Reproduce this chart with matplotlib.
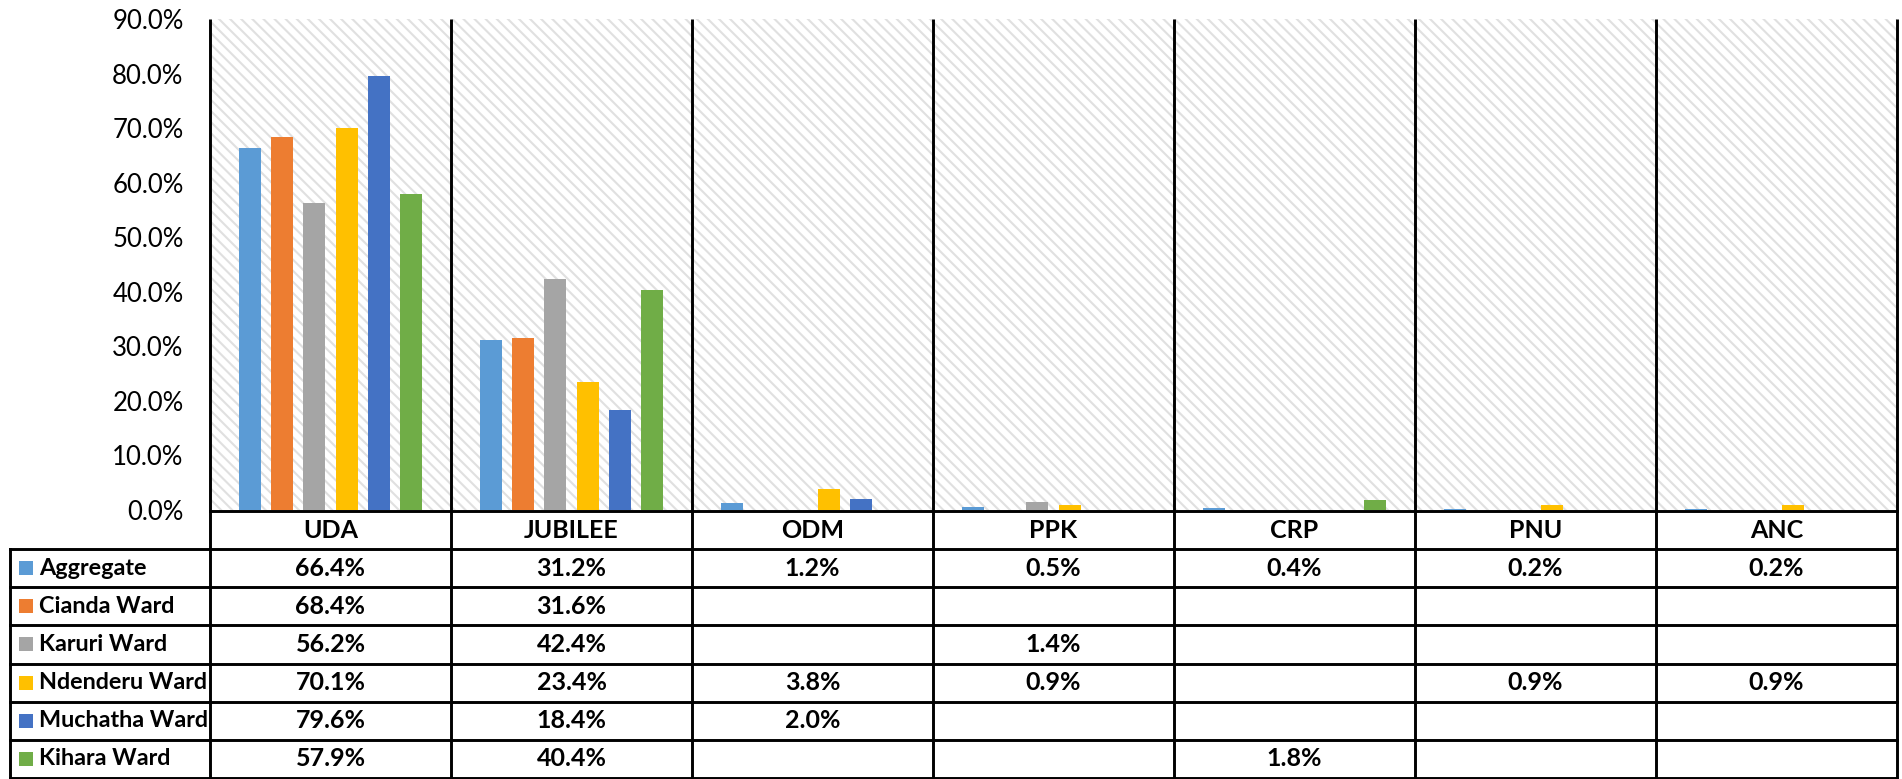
import numpy as np
import matplotlib.pyplot as plt
from matplotlib.patches import Rectangle

plt.rcParams['font.family'] = ['Lato', 'DejaVu Sans']
plt.rcParams['hatch.linewidth'] = 1.5

parties = ['UDA', 'JUBILEE', 'ODM', 'PPK', 'CRP', 'PNU', 'ANC']
wards = ['Aggregate', 'Cianda Ward', 'Karuri Ward', 'Ndenderu Ward',
         'Muchatha Ward', 'Kihara Ward']
nan = np.nan
aggregate = [66.4, 31.2, 1.2, 0.5, 0.4, 0.2, 0.2]
cianda = [68.4, 31.6, nan, nan, nan, nan, nan]
karuri = [56.2, 42.4, nan, 1.4, nan, nan, nan]
ndenderu = [70.1, 23.4, 3.8, 0.9, nan, 0.9, 0.9]
muchatha = [79.6, 18.4, 2.0, nan, nan, nan, nan]
kihara = [57.9, 40.4, nan, nan, 1.8, nan, nan]
series = [aggregate, cianda, karuri, ndenderu, muchatha, kihara]
colors = ['#5B9BD5', '#ED7D31', '#A5A5A5', '#FFC000', '#4472C4', '#70AD47']

W, H = 1902, 779
left, right, top, zero = 210, 1897, 19, 510

fig = plt.figure(figsize=(W / 100, H / 100), dpi=100)
ax = fig.add_axes([left / W, 1 - zero / H, (right - left) / W, (zero - top) / H])

# hatched plot background
ax.add_patch(Rectangle((0, 0), 1, 1, transform=ax.transAxes, facecolor='white',
                       edgecolor='#e0e0e0', hatch='\\\\\\', lw=0, zorder=0))

x = np.arange(len(parties))
step, width = 0.1328, 0.0913
for k, (vals, c) in enumerate(zip(series, colors)):
    ax.bar(x + (k - 2.5) * step, vals, width, color=c, zorder=2)

ax.set_xlim(-0.5, len(parties) - 0.5)
ax.set_ylim(0, 90)
ax.set_yticks(np.arange(0, 91, 10))
ax.set_yticklabels([f'{t:.1f}%' for t in np.arange(0, 91, 10)], fontsize=18.5)
ax.tick_params(axis='y', length=0, pad=19)
ax.set_xticks([])
for s in ax.spines.values():
    s.set_visible(False)

# data table drawn under the plot
tb = fig.add_axes([0, 0, 1, 1])
tb.set_xlim(0, W)
tb.set_ylim(H, 0)
tb.axis('off')
tb.patch.set_visible(False)

col_w = (right - left) / len(parties)
head_top, head_bot, bottom = 511, 549, 778
row_h = (bottom - head_bot) / len(wards)
lw = 2.1
fs = 18

for i in range(len(parties) + 1):
    tb.plot([left + i * col_w] * 2, [top, bottom], color='black', lw=lw,
            solid_capstyle='butt')
tb.plot([10, 10], [head_bot, bottom], color='black', lw=lw)
tb.plot([left, right], [head_top, head_top], color='black', lw=lw)
for r in range(len(wards) + 1):
    y = head_bot + r * row_h
    tb.plot([10, right], [y, y], color='black', lw=lw)

for i, p in enumerate(parties):
    tb.text(left + (i + 0.5) * col_w, (head_top + head_bot) / 2, p,
            ha='center', va='center', fontsize=fs, fontweight='bold')

for r, (name, vals, c) in enumerate(zip(wards, series, colors)):
    yc = head_bot + (r + 0.5) * row_h
    tb.add_patch(Rectangle((19, yc - 7), 14, 14, facecolor=c, lw=0))
    tb.text(39, yc, name, ha='left', va='center', fontsize=16.8,
            fontweight='bold')
    for i, v in enumerate(vals):
        if not np.isnan(v):
            tb.text(left + (i + 0.5) * col_w, yc, f'{v:.1f}%', ha='center',
                    va='center', fontsize=fs, fontweight='bold')

fig.savefig('out.png', dpi=100)
